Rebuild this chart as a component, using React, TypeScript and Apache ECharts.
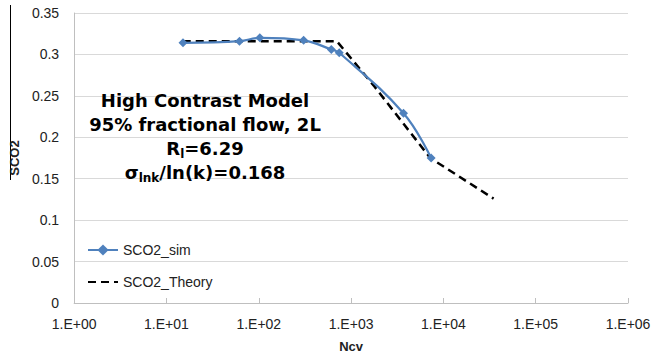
import React, { useEffect, useRef } from "react";
import * as echarts from "echarts";

const simX = [15.1, 61.8, 102.6, 306, 611, 745, 3696, 7362];
const simY = [0.314, 0.316, 0.32, 0.317, 0.306, 0.302, 0.229, 0.175];
const theoryX = [15, 700, 1800, 7200, 35000];
const theoryY = [0.316, 0.316, 0.261, 0.175, 0.126];
const yTicks = { min: 0, max: 0.35, interval: 0.05 };
const xRange = { min: 1, max: 1000000 };
const seriesNames = ["SCO2_sim", "SCO2_Theory"];
const noteLines = [
  "{b|High Contrast Model}",
  "{b|95% fractional flow, 2L}",
  "{b|R}{s|l}{b|=6.29}",
  "{b|σ}{s|lnk}{b|/ln(k)=0.168}",
];

export default function App() {
  const ref = useRef<HTMLDivElement>(null);
  useEffect(() => {
    if (!ref.current) return;
    const chart = echarts.init(ref.current, null, { renderer: "svg" });
    const tickFont = { fontFamily: "Liberation Sans", fontSize: 14, color: "#222" };
    chart.setOption({
      animation: false,
      backgroundColor: "#fff",
      grid: { left: 73, right: 26, top: 13, bottom: 58, containLabel: false },
      legend: {
        data: [
          { name: seriesNames[0] },
          { name: seriesNames[1], itemStyle: { opacity: 0 } },
        ],
        orient: "vertical",
        left: 82,
        top: 238,
        itemWidth: 30,
        itemHeight: 14,
        itemGap: 18,
        textStyle: { ...tickFont },
      },
      xAxis: {
        type: "log",
        logBase: 10,
        min: xRange.min,
        max: xRange.max,
        name: "Ncv",
        nameLocation: "middle",
        nameGap: 37,
        nameTextStyle: { fontFamily: "Liberation Sans", fontWeight: "bold", fontSize: 13, color: "#222" },
        axisLine: { lineStyle: { color: "#bfbfbf", width: 1 } },
        axisTick: { show: true, inside: true, length: 5, lineStyle: { color: "#bfbfbf" } },
        splitLine: { show: false },
        minorTick: { show: false },
        axisLabel: {
          ...tickFont,
          margin: 14,
          formatter: (v: number) => {
            const e = Math.round(Math.log10(v));
            return "1.E+" + (e < 10 ? "0" + e : String(e));
          },
        },
      },
      yAxis: {
        type: "value",
        min: yTicks.min,
        max: yTicks.max,
        interval: yTicks.interval,
        name: "SCO2",
        nameLocation: "middle",
        nameGap: 50,
        nameRotate: 90,
        nameTextStyle: { fontFamily: "Liberation Sans", fontWeight: "bold", fontSize: 13, color: "#222" },
        axisLine: { show: true, lineStyle: { color: "#bfbfbf", width: 1 } },
        axisTick: { show: false },
        splitLine: { lineStyle: { color: "#d9d9d9", width: 1 } },
        axisLabel: { ...tickFont, margin: 15 },
      },
      graphic: [
        {
          type: "line",
          shape: { x1: 10.5, y1: 5, x2: 10.5, y2: 180 },
          style: { stroke: "#000", lineWidth: 1 },
        },
        {
          type: "text",
          x: 205,
          y: 88,
          z: 10,
          style: {
            text: noteLines.join("\n"),
            align: "center",
            verticalAlign: "top",
            lineHeight: 24,
            fill: "#000",
            stroke: null,
            lineWidth: 0,
            rich: {
              b: {
                fontFamily: "DejaVu Sans",
                fontWeight: "bold",
                fontSize: 18,
                lineHeight: 24,
                fill: "#000",
                textBorderWidth: 0,
              },
              s: {
                fontFamily: "DejaVu Sans",
                fontWeight: "bold",
                fontSize: 12,
                lineHeight: 24,
                verticalAlign: "bottom",
                height: 12,
                fill: "#000",
                textBorderWidth: 0,
              },
            },
          },
        },
      ],
      series: [
        {
          name: seriesNames[0],
          type: "line",
          data: simX.map((x, i) => [x, simY[i]]),
          smooth: 0.4,
          symbol: "diamond",
          symbolSize: 9,
          lineStyle: { color: "#4f81bd", width: 2.25 },
          itemStyle: { color: "#4f81bd" },
          z: 3,
        },
        {
          name: seriesNames[1],
          type: "line",
          data: theoryX.map((x, i) => [x, theoryY[i]]),
          symbol: "none",
          lineStyle: { color: "#000", width: 2.5, type: [8, 5] },
          itemStyle: { color: "#000" },
          z: 2,
        },
      ],
    });
    return () => chart.dispose();
  }, []);
  return <div ref={ref} style={{ width: 654, height: 361, position: "absolute", left: 0, top: 0 }} />;
}
